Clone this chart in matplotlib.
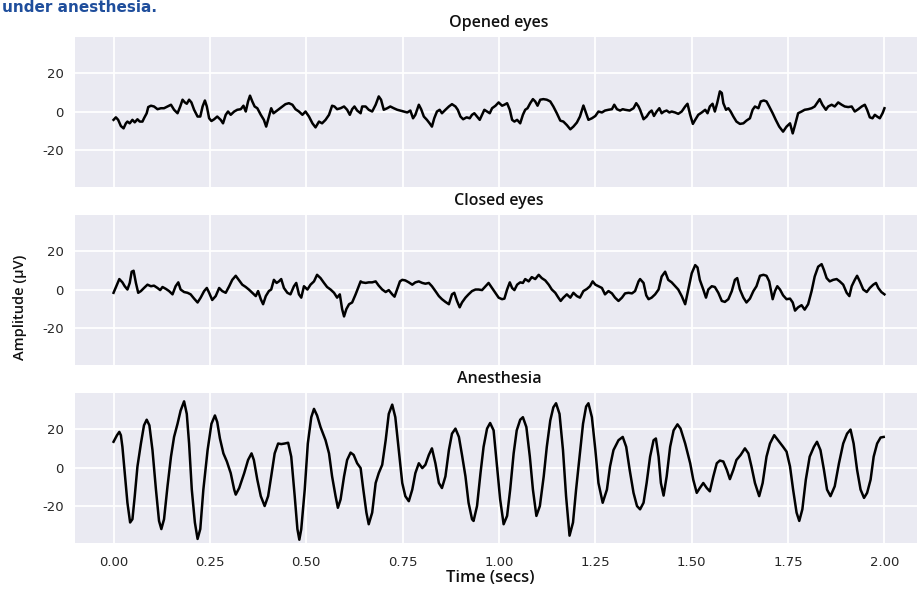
import numpy as np
import matplotlib
matplotlib.use("Agg")
import matplotlib.pyplot as plt

# ---------------- data (time in s, amplitude in µV) ----------------
panel_titles = ["Opened eyes", "Closed eyes", "Anesthesia"]
x_ticks = [0.00, 0.25, 0.50, 0.75, 1.00, 1.25, 1.50, 1.75, 2.00]
y_ticks = [-20, 0, 20]

opened_time = [
    0.000,0.006,0.012,0.019,0.026,0.032,0.036,0.042,0.049,0.055,
    0.062,0.068,0.075,0.079,0.086,0.090,0.097,0.105,0.114,0.123,
    0.131,0.140,0.149,0.157,0.166,0.173,0.179,0.185,0.190,0.196,
    0.202,0.209,0.218,0.225,0.231,0.237,0.242,0.248,0.254,0.261,
    0.269,0.278,0.284,0.291,0.297,0.304,0.313,0.321,0.330,0.337,
    0.343,0.349,0.354,0.360,0.366,0.373,0.382,0.390,0.396,0.403,
    0.409,0.415,0.421,0.429,0.438,0.446,0.455,0.464,0.472,0.481,
    0.490,0.498,0.507,0.516,0.524,0.533,0.541,0.550,0.559,0.567,
    0.573,0.580,0.589,0.598,0.606,0.613,0.619,0.625,0.632,0.641,
    0.645,0.654,0.662,0.671,0.680,0.688,0.694,0.701,0.710,0.718,
    0.727,0.736,0.744,0.753,0.762,0.770,0.777,0.783,0.792,0.798,
    0.805,0.813,0.820,0.826,0.832,0.839,0.846,0.852,0.861,0.870,
    0.878,0.887,0.893,0.900,0.907,0.916,0.924,0.930,0.936,0.943,
    0.950,0.956,0.962,0.969,0.976,0.982,0.991,0.999,1.008,1.014,
    1.021,1.028,1.034,1.040,1.047,1.055,1.062,1.068,1.074,1.081,
    1.088,1.094,1.100,1.107,1.115,1.124,1.133,1.141,1.150,1.159,
    1.167,1.176,1.185,1.193,1.202,1.210,1.219,1.226,1.232,1.241,
    1.250,1.258,1.267,1.275,1.284,1.293,1.299,1.306,1.314,1.321,
    1.327,1.339,1.349,1.356,1.362,1.366,
    1.375,1.383,1.390,1.396,1.402,1.409,1.416,1.422,1.428,1.435,
    1.442,1.448,1.457,1.465,1.474,1.483,1.489,1.496,1.503,1.509,
    1.517,1.526,1.535,1.541,1.547,1.554,1.560,1.566,1.573,1.578,
    1.582,1.589,1.595,1.601,1.608,1.616,1.625,1.634,1.642,1.651,
    1.658,1.664,1.673,1.679,1.687,1.694,1.701,1.710,1.718,1.727,
    1.737,1.746,1.755,1.762,1.768,1.776,1.785,1.793,1.802,1.811,
    1.819,1.828,1.832,1.839,1.848,1.854,1.863,1.871,1.880,1.889,
    1.897,1.906,1.915,1.923,1.932,1.941,1.949,1.955,1.962,1.969,
    1.975,1.981,1.988,1.995,2.000,
]
opened_amp = [
    -4.3,-3.0,-4.3,-7.5,-8.7,-6.1,-5.2,-6.1,-4.3,-5.6,
    -4.0,-5.2,-5.2,-3.5,-0.9,2.3,3.0,2.6,1.2,1.7,
    1.7,2.6,3.5,0.9,-0.9,2.6,6.1,4.7,4.0,6.1,
    4.7,0.9,-2.6,-2.6,2.6,5.7,2.6,-3.5,-4.9,-4.0,
    -2.6,-4.3,-6.1,-1.7,0.0,-1.7,0.0,0.9,1.2,3.0,
    0.0,5.2,8.2,5.2,2.6,1.7,-1.7,-4.3,-7.8,-2.6,
    1.7,-0.9,0.0,1.2,2.6,3.8,4.3,3.5,1.2,0.0,
    -1.7,0.0,-2.6,-6.1,-8.2,-5.2,-6.1,-4.3,-1.7,3.0,
    2.6,1.2,1.7,2.6,0.9,-1.7,1.2,2.6,0.5,-0.9,
    2.6,2.6,0.9,0.0,3.5,7.8,6.1,0.9,1.7,2.6,
    1.7,0.9,0.5,0.0,-0.5,0.5,-3.5,-1.7,3.5,1.2,
    -2.6,-4.3,-6.1,-7.8,-3.5,0.0,0.9,-0.9,0.9,2.6,
    3.8,2.6,0.9,-2.6,-4.0,-3.0,-3.5,-1.7,-0.9,-2.6,
    -4.3,-1.7,0.9,0.0,-0.9,1.7,3.0,4.7,3.0,3.5,
    4.3,0.9,-4.3,-5.2,-4.3,-6.1,-1.7,0.9,1.7,4.3,
    6.4,5.2,3.0,6.1,6.4,6.1,5.2,2.6,-0.9,-4.7,
    -5.2,-7.0,-9.2,-7.8,-5.7,-2.6,3.1,-0.9,-4.3,-3.5,
    -2.3,0.0,-0.5,0.5,0.9,1.2,3.5,1.2,0.5,1.2,
    0.9,0.5,1.7,4.3,2.6,0.9,
    -4.0,-2.6,-0.5,0.5,-2.3,0.0,1.7,-0.9,0.0,0.5,
    -0.5,0.0,-0.5,-1.2,0.0,2.6,4.0,-1.7,-6.4,-4.3,
    -1.7,-0.5,0.9,-0.9,2.6,4.0,0.0,4.3,10.4,9.6,
    4.3,0.9,1.7,0.0,-2.6,-5.2,-6.4,-6.1,-4.7,-3.5,
    0.9,2.6,1.7,5.2,5.7,5.2,2.6,-0.9,-4.3,-7.8,
    -10.4,-7.8,-6.1,-11.3,-7.0,-0.9,0.0,0.9,1.2,1.7,
    2.6,5.2,6.4,3.5,0.9,2.6,3.5,2.6,4.7,3.5,
    2.6,2.3,2.6,0.0,1.2,2.6,3.5,0.9,-3.0,-3.5,
    -1.7,-2.6,-3.5,-0.9,1.7,
]

closed_time = [
    0.000,0.009,0.015,0.023,0.029,0.036,0.042,0.047,0.052,0.058,
    0.064,0.071,0.079,0.088,0.097,0.105,0.114,0.121,0.127,0.136,
    0.144,0.153,0.161,0.168,0.174,0.183,0.192,0.200,0.209,0.218,
    0.226,0.235,0.242,0.248,0.256,0.265,0.274,0.282,0.291,0.300,
    0.308,0.317,0.326,0.334,0.343,0.351,0.360,0.369,0.375,0.382,
    0.388,0.395,0.403,0.409,0.416,0.423,0.429,0.435,0.442,0.451,
    0.459,0.468,0.474,0.481,0.487,0.494,0.503,0.511,0.520,0.528,
    0.537,0.546,0.554,0.563,0.572,0.580,0.587,0.593,0.598,0.604,
    0.611,0.619,0.628,0.636,0.641,
    0.645,0.654,0.662,0.671,0.680,0.688,0.697,0.706,0.714,0.723,
    0.729,0.736,0.743,0.749,0.757,0.766,0.775,0.783,0.792,0.801,
    0.809,0.818,0.826,0.835,0.844,0.852,0.861,0.870,0.878,0.884,
    0.891,0.898,0.904,0.913,0.921,0.930,0.939,0.947,0.956,0.965,
    0.973,0.982,0.991,0.999,1.008,1.014,1.021,1.028,1.034,1.040,
    1.047,1.055,1.062,1.068,1.077,1.085,1.094,1.103,1.111,1.120,
    1.129,1.137,1.146,1.154,1.160,1.167,1.176,1.185,1.193,1.202,
    1.210,1.219,1.228,1.236,1.243,1.250,1.258,1.267,1.275,1.284,
    1.293,1.301,1.310,1.319,1.327,1.336,1.345,1.353,1.362,1.366,
    1.375,1.382,1.388,1.396,1.405,1.414,1.422,1.431,1.439,1.448,
    1.457,1.465,1.474,1.483,1.491,1.500,1.509,1.515,1.521,1.530,
    1.537,1.543,1.552,1.560,1.569,1.578,1.586,1.595,1.604,1.612,
    1.618,1.625,1.634,1.642,1.651,1.660,1.668,1.677,1.686,1.694,
    1.701,1.710,1.716,1.722,1.729,1.737,1.746,1.755,1.762,1.768,
    1.776,1.785,1.793,1.802,1.811,1.819,1.828,1.837,1.843,1.850,
    1.858,1.867,1.876,1.884,1.893,1.902,1.909,1.915,1.923,1.929,
    1.936,1.945,1.954,1.962,1.971,1.978,1.984,1.992,2.000,
]
closed_amp = [
    -1.7,2.5,5.4,3.7,1.7,0.0,3.4,9.2,9.7,3.4,
    -1.7,-0.8,0.8,2.5,1.7,2.0,0.8,-0.3,1.3,0.3,
    -0.8,-2.5,1.7,3.7,0.0,-1.3,-1.7,-2.5,-4.7,-6.7,
    -4.2,-0.8,0.8,-1.7,-5.4,-3.4,0.8,-0.8,-1.7,1.7,
    5.0,7.1,4.7,2.5,1.3,0.0,-1.7,-3.4,-0.8,-5.0,
    -7.6,-3.4,-0.8,0.0,5.0,3.4,4.2,5.4,0.8,-1.7,
    -2.5,1.7,3.4,-2.5,-4.2,1.7,0.0,2.5,4.2,7.6,
    5.9,3.4,1.3,0.0,-1.7,-4.2,-2.5,-10.1,-13.9,-10.1,
    -7.6,-6.7,-2.5,1.7,4.2,
    3.7,3.4,3.7,3.7,4.2,2.0,0.0,-1.3,-0.3,-2.5,
    -3.7,0.3,4.2,5.0,4.7,3.7,2.5,3.7,4.2,3.4,
    3.0,3.4,1.7,-0.8,-3.4,-5.0,-6.4,-7.6,-2.5,-1.7,
    -5.9,-9.2,-6.7,-4.2,-2.5,-0.8,0.0,0.0,-0.3,1.7,
    3.4,0.8,-1.7,-4.2,-5.0,-4.7,0.0,3.7,0.8,-0.3,
    2.5,3.7,3.4,5.4,4.2,6.4,5.4,7.6,5.9,4.7,
    2.5,0.0,-1.7,-4.2,-5.9,-4.2,-2.5,-4.2,-1.7,-3.4,
    -4.2,-0.8,0.3,1.7,4.2,2.5,1.7,0.8,-2.5,-0.8,
    -2.0,-4.2,-5.9,-4.2,-2.0,-1.7,-2.0,-0.8,4.2,5.4,
    3.4,-3.0,-5.0,-4.2,-2.5,0.0,6.7,9.2,5.0,3.7,
    1.7,0.0,-3.4,-7.6,0.0,8.4,12.6,11.4,5.0,0.0,
    -4.2,0.0,1.7,1.3,-1.7,-5.9,-6.4,-5.0,-0.8,5.0,
    5.9,0.0,-4.2,-6.7,-4.7,-0.8,1.7,7.1,7.6,7.1,
    4.2,-5.0,-0.8,1.7,0.0,-3.0,-5.0,-4.7,-6.7,-10.9,
    -9.2,-8.1,-10.4,-7.6,-0.8,6.7,11.8,13.1,10.1,5.9,
    4.2,5.0,5.4,4.2,2.5,-1.7,-3.4,1.7,5.0,7.1,
    4.2,0.0,-1.3,0.8,2.5,3.4,0.8,-1.3,-2.5,
]

anesthesia_time = [
    0.000,0.009,0.015,0.019,0.023,0.029,0.036,0.043,0.049,0.055,
    0.062,0.071,0.079,0.086,0.093,0.101,0.110,0.118,0.124,0.131,
    0.140,0.149,0.157,0.166,0.174,0.183,0.190,0.196,0.203,0.211,
    0.218,0.225,0.233,0.244,0.254,0.263,0.269,0.276,0.285,0.294,
    0.304,0.313,0.317,0.326,0.339,0.349,0.358,0.364,0.373,0.382,
    0.392,0.401,0.409,0.418,0.427,0.435,0.444,0.453,0.461,0.470,
    0.477,0.482,0.487,0.496,0.504,0.513,0.520,0.528,0.537,0.550,
    0.559,0.567,0.576,0.582,0.589,0.598,0.606,0.615,0.623,0.632,
    0.641,
    0.648,0.656,0.662,0.671,0.680,0.688,0.697,0.706,0.714,0.723,
    0.731,0.740,0.749,0.757,0.766,0.775,0.783,0.792,0.801,0.809,
    0.818,0.826,0.835,0.844,0.852,0.861,0.870,0.878,0.887,0.896,
    0.904,0.913,0.921,0.930,0.934,0.943,0.952,0.960,0.969,0.977,
    0.986,0.995,1.003,1.012,1.021,1.029,1.038,1.046,1.055,1.062,
    1.071,1.080,1.088,1.097,1.106,1.116,1.124,1.133,1.141,1.148,
    1.157,1.166,1.174,1.183,1.192,1.200,1.209,1.218,1.226,1.232,
    1.241,1.250,1.258,1.269,1.280,1.288,1.297,1.310,1.321,1.330,
    1.339,1.349,1.358,1.366,
    1.375,1.383,1.392,1.401,1.407,1.414,1.420,1.427,1.435,1.444,
    1.453,1.463,1.471,1.483,1.496,1.504,1.513,1.521,1.530,1.539,
    1.547,1.556,1.565,1.573,1.582,1.591,1.599,1.608,1.616,1.627,
    1.638,1.647,1.655,1.664,1.675,1.684,1.694,1.703,1.714,1.724,
    1.737,1.746,1.755,1.763,1.772,1.779,1.787,1.796,1.806,1.817,
    1.825,1.834,1.843,1.851,1.860,1.871,1.882,1.893,1.903,1.912,
    1.920,1.929,1.938,1.947,1.955,1.964,1.972,1.981,1.990,1.998,
]
anesthesia_amp = [
    13.3,16.7,18.4,16.7,10.7,-2.9,-18.2,-28.4,-26.7,-14.8,
    0.5,12.4,21.8,24.7,21.8,9.0,-11.4,-27.6,-31.8,-26.7,
    -9.7,5.6,15.8,22.6,29.4,34.2,27.7,12.4,-11.4,-28.4,
    -36.9,-31.8,-11.4,9.0,22.6,26.9,23.5,15.0,7.3,3.1,
    -2.9,-11.4,-14.0,-10.6,-2.9,3.9,7.3,3.9,-6.3,-14.8,
    -19.9,-14.8,-4.6,7.3,12.4,12.1,12.4,12.8,5.6,-14.8,
    -31.8,-37.3,-31.8,-11.4,12.4,26.0,30.3,26.9,20.9,14.1,
    7.3,-4.6,-14.8,-20.8,-16.5,-4.6,3.9,7.7,6.5,2.2,
    -0.3,
    -11.4,-23.3,-29.3,-23.3,-8.0,-2.9,1.4,14.1,27.7,32.5,
    26.0,9.0,-8.0,-14.8,-17.4,-11.4,-2.9,2.2,-0.3,1.4,
    6.5,9.9,2.2,-8.0,-10.6,-4.6,9.0,17.5,20.1,15.8,
    6.5,-4.6,-18.2,-26.7,-27.6,-19.9,-2.9,10.7,20.1,23.0,
    19.2,0.5,-16.5,-29.3,-25.0,-11.4,7.3,19.2,24.7,26.0,
    20.9,5.6,-11.4,-25.0,-19.9,-4.6,10.7,24.3,31.1,33.2,
    27.7,9.0,-14.8,-35.2,-28.4,-11.4,5.6,22.6,31.5,33.2,
    26.0,9.0,-8.0,-18.2,-11.4,0.5,9.0,14.1,15.8,10.7,
    -1.2,-13.1,-19.9,-21.6,
    -18.2,-8.0,5.6,14.1,15.0,5.6,-8.0,-14.5,-4.6,10.7,
    19.2,22.3,20.1,12.4,2.2,-6.3,-13.1,-10.6,-8.0,-10.6,
    -12.3,-4.6,2.2,3.6,3.1,-1.2,-6.0,-1.2,3.9,6.5,
    9.9,7.3,0.5,-8.0,-14.8,-8.0,5.6,12.4,16.7,14.1,
    10.7,8.2,0.5,-11.4,-23.3,-27.6,-21.6,-6.3,5.6,10.7,
    13.3,9.0,-1.2,-11.4,-14.8,-9.7,2.2,12.4,17.5,19.6,
    12.4,-1.2,-11.4,-15.7,-13.1,-6.3,5.6,12.4,15.5,15.8,
]

series = [
    (opened_time, opened_amp),
    (closed_time, closed_amp),
    (anesthesia_time, anesthesia_amp),
]

# ---------------- figure ----------------
plt.rcParams["font.family"] = ["DejaVu Sans"]
label_font = ["Open Sans", "DejaVu Sans"]
fig = plt.figure(figsize=(9.17, 5.90), dpi=100)

W, H = 917.0, 590.0
left = 75 / W
width = (923 - 75) / W
height = 150 / H
tops = [37, 215, 393]

for i, (title, (t, a)) in enumerate(zip(panel_titles, series)):
    bottom = 1 - (tops[i] + 150) / H
    ax = fig.add_axes([left, bottom, width, height])
    ax.set_facecolor("#EAEAF2")
    for s in ax.spines.values():
        s.set_visible(False)
    ax.grid(True, color="white", linewidth=1.3)
    ax.set_axisbelow(True)
    ax.plot(np.asarray(t), np.asarray(a), color="black", linewidth=1.8)
    ax.set_xlim(-0.1, 2.1)
    ax.set_ylim(-39, 38.5)
    ax.set_yticks(y_ticks)
    ax.set_yticklabels([str(v) for v in y_ticks])
    ax.set_xticks(x_ticks)
    if i == 2:
        ax.set_xticklabels([f"{v:.2f}" for v in x_ticks])
    else:
        ax.set_xticklabels([])
    ax.tick_params(length=0, labelsize=9.5, labelcolor="#262626")
    ax.tick_params(axis="y", pad=8)
    ax.tick_params(axis="x", pad=9)
    ax.set_title(title, fontsize=11.5, color="#111111", pad=7,
                 family=label_font, fontweight="semibold")

fig.text(20 / W, 1 - 307 / H, "Amplitude (µV)", rotation=90,
         ha="center", va="center", fontsize=10.5, color="#111111",
         family=label_font, fontweight="semibold")
fig.text(490 / W, 1 - 578 / H, "Time (secs)", ha="center", va="center",
         fontsize=12, color="#111111", family=label_font,
         fontweight="semibold")
fig.text(0.002, 1 - 12 / H, "under anesthesia.", ha="left", va="baseline",
         fontsize=11, fontweight="bold", color="#1f4e9c")

fig.savefig("out.png", dpi=100)
